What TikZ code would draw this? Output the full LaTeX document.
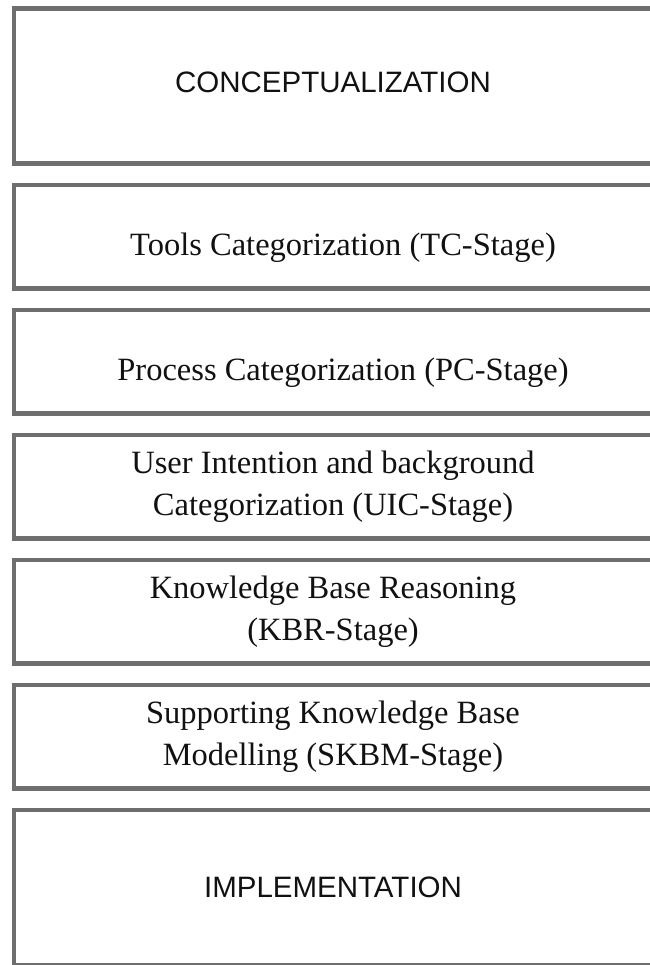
\documentclass[tikz,border=0pt]{standalone}
\usepackage{fontspec}
\setmainfont{Liberation Serif}
\newfontfamily\capsfont{Liberation Sans}
\usepackage{tikz}
\usetikzlibrary{positioning}
\definecolor{boxgray}{HTML}{6E6E6E}
\definecolor{inkprimary}{HTML}{111111}

\begin{document}
\begin{tikzpicture}[
  x=1pt, y=-1pt,
  node distance=21.5pt,
  stage/.style={draw=boxgray, line width=4.2pt, inner sep=0pt, outer sep=0pt,
    minimum width=638pt, minimum height=103.5pt, align=center,
    font=\fontsize{32.5}{42}\selectfont\color{inkprimary}},
  lowstage/.style={stage, text height=44pt},
  endstage/.style={stage, minimum height=155pt,
    font=\capsfont\fontsize{29.5}{36}\selectfont\color{inkprimary}}
]
\useasboundingbox (0,0) rectangle (649,965);

\node[endstage, text depth=8pt] (concept) at (333,86) {CONCEPTUALIZATION};
\node[lowstage, below=of concept] (tc) {\hspace*{20pt}Tools Categorization (TC-Stage)};
\node[lowstage, below=of tc] (pc) {\hspace*{20pt}Process Categorization (PC-Stage)};
\node[stage, below=of pc] (uic) {User Intention and background\\Categorization (UIC-Stage)};
\node[stage, below=of uic] (kbr) {Knowledge Base Reasoning\\(KBR-Stage)};
\node[stage, below=of kbr] (skbm) {Supporting Knowledge Base\\Modelling (SKBM-Stage)};
\node[endstage, below=of skbm] (impl) {IMPLEMENTATION};
\end{tikzpicture}
\end{document}
